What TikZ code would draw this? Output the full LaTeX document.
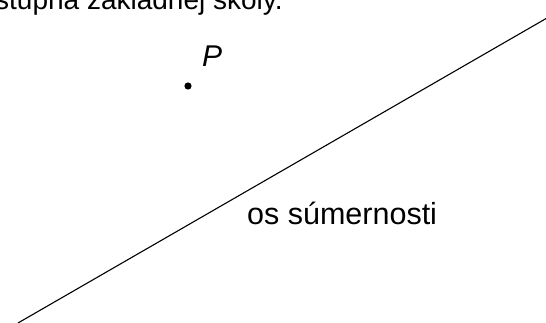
\documentclass[tikz,border=0pt]{standalone}
\usepackage{fontspec}
\setmainfont{Liberation Sans}
\begin{document}
\begin{tikzpicture}[x=1pt,y=-1pt,
  lbl/.style={inner sep=0pt, anchor=base west, text=black},
  axis/.style={line width=1.1pt, black}]
\useasboundingbox (0,0) rectangle (546,323);
\node[lbl, font=\fontsize{28}{34}\selectfont] (top) at (-5,10) {stupňa základnej školy.};
\fill (188,86) circle (3.6) coordinate (p);
\node[lbl, font=\fontsize{30}{36}\selectfont\itshape] (plabel) at (202,67) {P};
\coordinate (a) at (18,323);
\coordinate (b) at (547,18);
\draw[axis] (a) -- (b);
\node[lbl, font=\fontsize{30.5}{36}\selectfont] (os) at (247,225) {os súmernosti};
\end{tikzpicture}
\end{document}
